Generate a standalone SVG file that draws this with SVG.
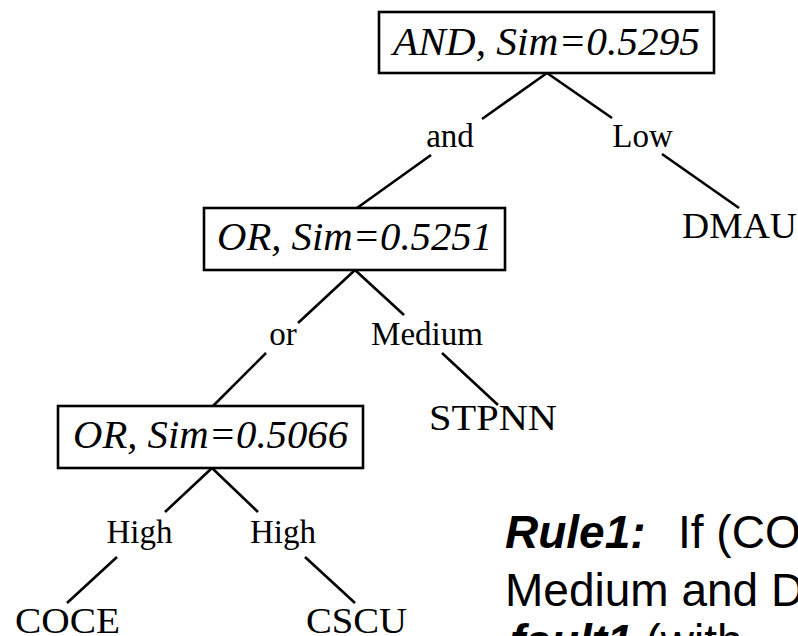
<svg xmlns="http://www.w3.org/2000/svg" width="798" height="636" viewBox="0 0 798 636">
<style>
.box{fill:#fff;stroke:#000;stroke-width:2.6}
.btxt{font-family:"Liberation Serif","Times New Roman",serif;font-style:italic;font-size:40px;fill:#000;text-anchor:middle}
.lbl{font-family:"Liberation Serif","Times New Roman",serif;font-size:33px;fill:#000;text-anchor:middle}
.leaf{font-family:"Liberation Serif","Times New Roman",serif;font-size:36px;fill:#000}
.rule{font-family:"Liberation Sans",Arial,sans-serif;font-size:46px;fill:#000}
.bi{font-weight:bold;font-style:italic}
#connectors line{stroke:#000;stroke-width:2.6;stroke-linecap:butt}
</style>
<rect width="798" height="636" fill="#fff"/>
<g id="connectors">
<line x1="547" y1="73" x2="482" y2="119"/>
<line x1="547" y1="73" x2="612" y2="118"/>
<line x1="431" y1="155" x2="357" y2="208"/>
<line x1="662" y1="154" x2="739" y2="208"/>
<line x1="355" y1="270" x2="298" y2="323"/>
<line x1="355" y1="270" x2="404" y2="315"/>
<line x1="266" y1="353" x2="213" y2="406"/>
<line x1="442" y1="353" x2="498" y2="405"/>
<line x1="212" y1="468" x2="165" y2="512"/>
<line x1="212" y1="468" x2="258" y2="512"/>
<line x1="117" y1="557" x2="67" y2="603"/>
<line x1="305" y1="557" x2="355" y2="603"/>
</g>
<g id="node-and">
<rect class="box" x="379" y="12" width="335" height="61"/>
<text class="btxt" x="546.5" y="55" textLength="307" lengthAdjust="spacingAndGlyphs">AND, Sim=0.5295</text>
</g>
<g id="node-or1">
<rect class="box" x="204" y="208" width="301" height="62"/>
<text class="btxt" x="354.5" y="250" textLength="275" lengthAdjust="spacingAndGlyphs">OR, Sim=0.5251</text>
</g>
<g id="node-or2">
<rect class="box" x="58" y="406" width="305" height="62"/>
<text class="btxt" x="210.5" y="448" textLength="275" lengthAdjust="spacingAndGlyphs">OR, Sim=0.5066</text>
</g>
<g id="label-and"><text class="lbl" x="450" y="147">and</text></g>
<g id="label-low"><text class="lbl" x="642.5" y="147">Low</text></g>
<g id="label-or"><text class="lbl" x="283" y="345">or</text></g>
<g id="label-medium"><text class="lbl" x="427" y="345">Medium</text></g>
<g id="label-high1"><text class="lbl" x="139.5" y="543">High</text></g>
<g id="label-high2"><text class="lbl" x="283" y="543">High</text></g>
<g id="leaf-dmau"><text class="leaf" x="682" y="238" textLength="115" lengthAdjust="spacingAndGlyphs">DMAU</text></g>
<g id="leaf-stpnn"><text class="leaf" x="429" y="430" textLength="128" lengthAdjust="spacingAndGlyphs">STPNN</text></g>
<g id="leaf-coce"><text class="leaf" x="15" y="633" textLength="105" lengthAdjust="spacingAndGlyphs">COCE</text></g>
<g id="leaf-cscu"><text class="leaf" x="306" y="633" textLength="101" lengthAdjust="spacingAndGlyphs">CSCU</text></g>
<g id="rule-text">
<text class="rule" y="548"><tspan class="bi" x="505">Rule1:</tspan><tspan x="678">If (CO</tspan></text>
<text class="rule" x="505" y="606">Medium and D</text>
<text class="rule" y="657"><tspan class="bi" x="510">fault1</tspan><tspan> (with</tspan></text>
</g>
</svg>
